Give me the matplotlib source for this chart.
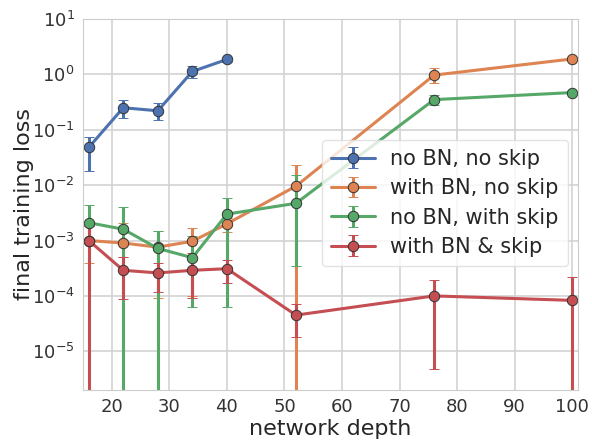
import matplotlib
matplotlib.use('Agg')
import matplotlib.pyplot as plt
import numpy as np
import seaborn as sns

# Data
depth_a = [16, 22, 28, 34, 40]
depth_b = [16, 22, 28, 34, 40, 52, 76, 100]

no_bn_no_skip = [0.048, 0.25, 0.22, 1.13, 1.86]
no_bn_no_skip_lo = [0.018, 0.16, 0.15, 0.85, 1.7]
no_bn_no_skip_hi = [0.075, 0.35, 0.30, 1.4, 2.0]

bn_no_skip = [1.0e-3, 9.0e-4, 7.6e-4, 9.7e-4, 2.0e-3, 9.6e-3, 0.97, 1.9]
bn_no_skip_lo = [4.0e-4, 5.0e-4, 9.0e-5, 1.0e-4, 1.4e-3, 1e-9, 0.7, 1.8]
bn_no_skip_hi = [1.8e-3, 2.1e-3, 1.5e-3, 1.7e-3, 2.6e-3, 0.023, 1.3, 2.0]

no_bn_skip = [2.1e-3, 1.6e-3, 7.2e-4, 4.9e-4, 3.0e-3, 4.7e-3, 0.35, 0.47]
no_bn_skip_lo = [1.0e-3, 1e-9, 1e-9, 6.3e-5, 6.3e-5, 3.4e-4, 0.28, 0.44]
no_bn_skip_hi = [4.3e-3, 4.0e-3, 1.5e-3, 1.2e-3, 5.8e-3, 0.015, 0.42, 0.50]

bn_skip = [1.0e-3, 2.9e-4, 2.6e-4, 2.9e-4, 3.1e-4, 4.5e-5, 1.0e-4, 8.3e-5]
bn_skip_lo = [1e-9, 8.7e-5, 1.2e-4, 9.1e-5, 1.7e-4, 1.8e-5, 4.7e-6, 1e-9]
bn_skip_hi = [1.8e-3, 5.0e-4, 4.0e-4, 5.9e-4, 4.4e-4, 7.0e-5, 1.9e-4, 2.2e-4]

series = [
    ("no BN, no skip", depth_a, no_bn_no_skip, no_bn_no_skip_lo, no_bn_no_skip_hi),
    ("with BN, no skip", depth_b, bn_no_skip, bn_no_skip_lo, bn_no_skip_hi),
    ("no BN, with skip", depth_b, no_bn_skip, no_bn_skip_lo, no_bn_skip_hi),
    ("with BN & skip", depth_b, bn_skip, bn_skip_lo, bn_skip_hi),
]

sns.set_style('whitegrid')
colors = sns.color_palette('deep', 4)

fig = plt.figure(figsize=(5.92, 4.4), dpi=100)
ax = fig.add_axes([83 / 592, 50 / 440, 495 / 592, 371 / 440])

for (label, x, y, lo, hi), c in zip(series, colors):
    y = np.array(y)
    err = [y - np.array(lo), np.array(hi) - y]
    ax.errorbar(x, y, yerr=err, color=c, lw=2.2, marker='o', ms=7.5,
                mec='#333333', mew=0.7, capsize=3.5, capthick=1.0,
                elinewidth=2.2, label=label)

ax.set_yscale('log')
ax.set_xlim(15, 101)
ax.set_ylim(2e-6, 10)
ax.set_yticks([1e-5, 1e-4, 1e-3, 1e-2, 1e-1, 1, 10])
ax.minorticks_off()
ax.tick_params(labelsize=13, colors='#333333', length=0, pad=6)
ax.set_xlabel("network depth", fontsize=16, color='#262626', labelpad=2)
ax.set_ylabel("final training loss", fontsize=16, color='#262626')
ax.yaxis.set_label_coords(-0.098, 0.5)
for s in ax.spines.values():
    s.set_color('#cccccc')
ax.grid(color='#d3d3d3', lw=1.2)

leg = ax.legend(loc='upper right', bbox_to_anchor=(0.98, 0.675), fontsize=15,
                frameon=True, borderaxespad=0, handlelength=2.1,
                handletextpad=0.75, borderpad=0.45, labelspacing=0.45)
leg.get_frame().set_edgecolor('#dddddd')

fig.savefig('out.png', dpi=100)
